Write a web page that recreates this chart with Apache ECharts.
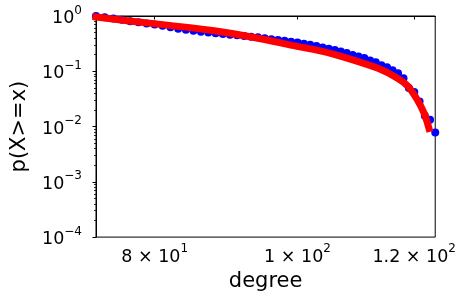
<!DOCTYPE html>
<html>
<head>
<meta charset="utf-8">
<script src="https://cdn.jsdelivr.net/npm/echarts@6/dist/echarts.min.js"></script>
<style>html,body{margin:0;padding:0;background:#fff}#c{width:459px;height:297px}</style>
</head>
<body>
<div id="c"></div>
<script>
// ---- data ----
const degrees = [73,74,75,76,77,78,79,80,81,82,83,84,85,86,87,88,89,90,91,92,93,94,95,96,97,98,99,100,101,102,103,104,105,106,107,108,109,110,111,112,113,114,115,116,117,118,119,120,121,122,123,124];
const ccdf = [1.000,0.948,0.899,0.852,0.807,0.769,0.734,0.699,0.663,0.623,0.586,0.562,0.540,0.518,0.501,0.487,0.471,0.458,0.447,0.436,0.423,0.411,0.396,0.380,0.368,0.355,0.343,0.330,0.316,0.303,0.287,0.268,0.255,0.242,0.228,0.214,0.197,0.185,0.174,0.157,0.145,0.128,0.118,0.104,0.092,0.075,0.050,0.042,0.0283,0.0157,0.0133,0.0078];
const fitDegrees = [73.0,76.9,81.9,87.8,94.4,98.6,103.8,108.2,113.4,116.9,118.8,120.6,121.9,122.8];
const fitValues = [0.960,0.814,0.677,0.540,0.388,0.303,0.232,0.171,0.113,0.075,0.054,0.0303,0.0171,0.0092];
const xRange = [73, 124];
const yRange = [1e-4, 1];
const xTickValues = [80, 100, 120];
const xTickMantissa = ['8 × 10', '1 × 10', '1.2 × 10'];
const xTickExponent = ['1', '2', '2'];
const yTickValues = [1e-4, 1e-3, 1e-2, 1e-1, 1];
const yTickExponent = ['−4', '−3', '−2', '−1', '0'];
const yMinorMultipliers = [2,3,4,5,6,7,8,9];
const xName = 'degree';
const yName = 'p(X>=x)';

// ---- build ----
const L = Math.log10;
const near = (a, b) => Math.abs(a - b) < 1e-6;
const yMinor = [];
for (let e = -4; e < 0; e++) yMinorMultipliers.forEach(m => yMinor.push(L(m * Math.pow(10, e))));
const font = 'DejaVu Sans';
const rich = {
  b: {fontSize: 17.5, fontFamily: font, color: '#000', lineHeight: 23, verticalAlign: 'bottom'},
  s: {fontSize: 12, fontFamily: font, color: '#000', lineHeight: 14, verticalAlign: 'top'}
};
const chart = echarts.init(document.getElementById('c'), null, {renderer: 'canvas'});
chart.setOption({
  animation: false,
  backgroundColor: '#fff',
  grid: {left: 96, right: 22, top: 16, bottom: 57, show: true, borderColor: '#000', borderWidth: 1, backgroundColor: 'transparent'},
  xAxis: [{
    type: 'value', min: L(xRange[0]), max: L(xRange[1]),
    name: xName, nameLocation: 'middle', nameGap: 13,
    nameTextStyle: {fontSize: 21, fontFamily: font, color: '#000'},
    axisLine: {show: true, lineStyle: {color: '#000', width: 1}},
    axisTick: {show: true, length: 3.5, lineStyle: {color: '#000', width: 1}, customValues: xTickValues.map(L)},
    axisLabel: {margin: 6, customValues: xTickValues.map(L), rich: rich,
      formatter: v => { const i = xTickValues.findIndex(t => near(L(t), v)); return i < 0 ? '' : '{b|' + xTickMantissa[i] + '}{s|' + xTickExponent[i] + '}'; }},
    splitLine: {show: false}
  }],
  yAxis: [{
    type: 'value', min: L(yRange[0]), max: L(yRange[1]), interval: 1,
    name: yName, nameLocation: 'middle', nameGap: 66, nameRotate: 90,
    nameTextStyle: {fontSize: 21, fontFamily: font, color: '#000'},
    axisLine: {show: true, lineStyle: {color: '#000', width: 1}},
    axisTick: {show: true, length: 3.5, lineStyle: {color: '#000', width: 1}},
    axisLabel: {margin: 14, rich: rich,
      formatter: v => { const i = yTickValues.findIndex(t => near(L(t), v)); return i < 0 ? '' : '{b|10}{s|' + yTickExponent[i] + '}'; }},
    splitLine: {show: false}
  }, {
    type: 'value', min: L(yRange[0]), max: L(yRange[1]), position: 'left',
    axisLine: {show: false},
    axisTick: {show: true, length: 2, lineStyle: {color: '#000', width: 0.8}, customValues: yMinor},
    axisLabel: {show: false},
    splitLine: {show: false}
  }],
  series: [{
    type: 'scatter', xAxisIndex: 0, yAxisIndex: 0,
    data: degrees.map((d, i) => [L(d), L(ccdf[i])]),
    symbol: 'circle', symbolSize: 8,
    itemStyle: {color: '#0000ff', opacity: 1}, clip: true, z: 2
  }, {
    type: 'line', xAxisIndex: 0, yAxisIndex: 0,
    data: fitDegrees.map((d, i) => [L(d), L(fitValues[i])]),
    showSymbol: false, symbol: 'none', smooth: 0.3,
    lineStyle: {color: '#ff0000', width: 7, cap: 'square', join: 'round'},
    clip: true, z: 3
  }]
});
</script>
</body>
</html>
